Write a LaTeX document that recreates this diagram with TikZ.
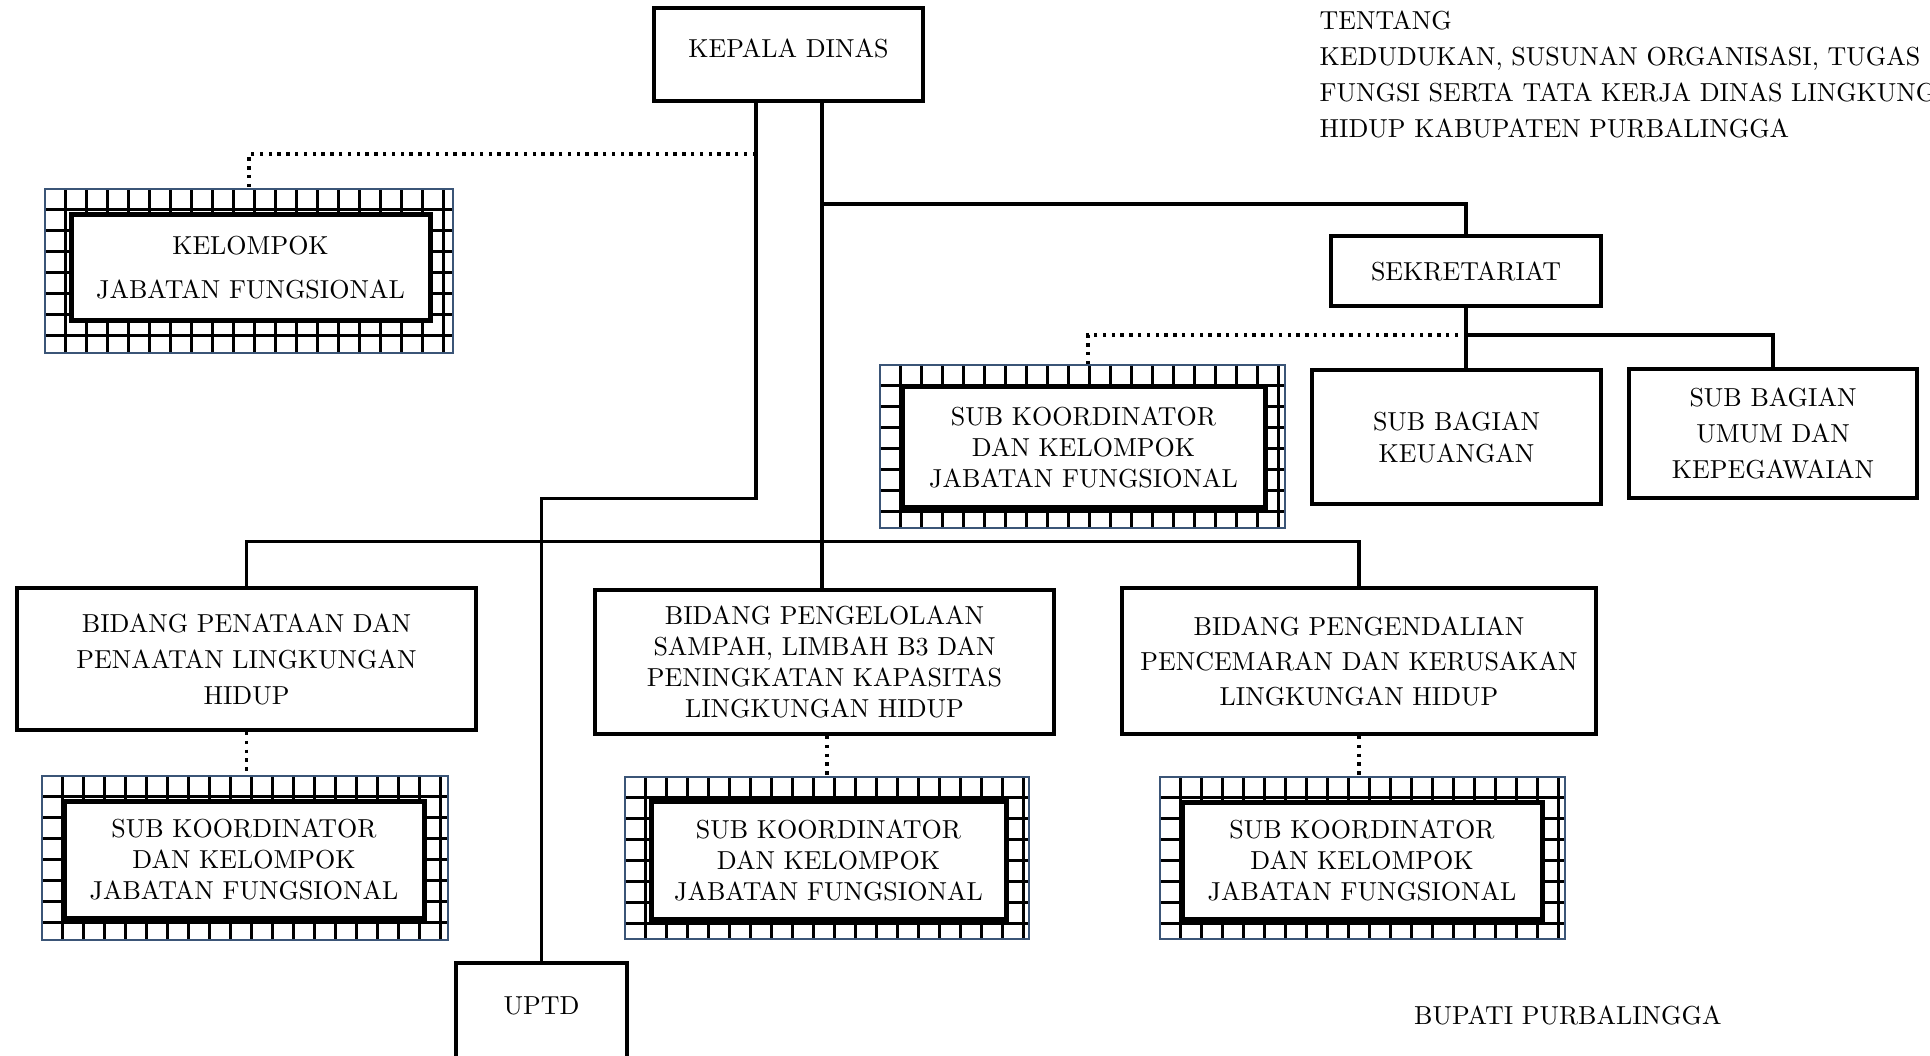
\documentclass[tikz,border=0pt]{standalone}
\usepackage{fontspec}
\setmainfont{lmroman10-regular.otf}
\definecolor{hatchblue}{HTML}{3B5577}
\tikzset{
  box/.style={draw, line width=4pt, inner sep=0pt, align=center, fill=white},
  conn/.style={line width=3.6pt},
  dotl/.style={line width=3.4pt, dash pattern=on 3.4pt off 5.4pt},
  bs/.style={font=\fontsize{26}{#1}\selectfont},
  hatchouter/.style={inner sep=0pt},
  hatchline/.style={draw=hatchblue, line width=1.8pt},
  gridline/.style={line width=3.3pt},
  innerbox/.style={draw, line width=5pt, fill=white, inner sep=0pt, align=center},
}
\newcommand{\hatchunit}[9]{%
  \node[hatchouter, minimum width=#3, minimum height=#4] (#1-o) at #2 {};
  \begin{scope}
    \clip (#1-o.south west) rectangle (#1-o.north east);
    \begin{scope}[shift={(#1-o.north west)}]
      \draw[gridline, step=21pt] (0,#4) grid (#3,0);
    \end{scope}
  \end{scope}
  \draw[hatchline] (#1-o.south west) rectangle (#1-o.north east);
  \node[innerbox, minimum width=#6, minimum height=#7, #8] (#1) at #5 {#9};
}
\begin{document}
\begin{tikzpicture}[x=1pt, y=-1pt, bs=31]
\clip (0,0) rectangle (1930,1056);
\fill[white] (0,0) rectangle (1930,1056);

% header text (cut at the right edge, as in the reference)
\node[anchor=west, align=left, inner sep=0pt, bs=36] (hdr) at (1319.5,74)
  {TENTANG\\KEDUDUKAN, SUSUNAN ORGANISASI, TUGAS\\FUNGSI SERTA TATA KERJA DINAS LINGKUNGAN\\HIDUP KABUPATEN PURBALINGGA};
\node[anchor=west, inner sep=0pt] (bup) at (1414,1015) {BUPATI PURBALINGGA};

% main boxes
\node[box, minimum width=269, minimum height=93, text depth=12pt] (kd) at (788.5,54.5) {KEPALA DINAS};
\node[box, minimum width=270, minimum height=70] (sek) at (1466,271) {SEKRETARIAT};
\node[box, minimum width=289, minimum height=134, bs=32] (keu) at (1456.5,437) {SUB BAGIAN\\KEUANGAN};
\node[box, minimum width=288, minimum height=129, bs=36] (umum) at (1773,433.5) {SUB BAGIAN\\UMUM DAN\\KEPEGAWAIAN};
\node[box, minimum width=459, minimum height=142, bs=36] (b1) at (246.5,659) {BIDANG PENATAAN DAN\\PENAATAN LINGKUNGAN\\HIDUP};
\node[box, minimum width=459, minimum height=144, bs=31] (b2) at (824.5,662) {BIDANG PENGELOLAAN\\SAMPAH, LIMBAH B3 DAN\\PENINGKATAN KAPASITAS\\LINGKUNGAN HIDUP};
\node[box, minimum width=474, minimum height=146, bs=35] (b3) at (1359,661) {BIDANG PENGENDALIAN\\PENCEMARAN DAN KERUSAKAN\\LINGKUNGAN HIDUP};
\node[box, minimum width=171, minimum height=105, text depth=19pt] (uptd) at (541.5,1015.5) {UPTD};

% hatched boxes
\hatchunit{kjf}{(249,271)}{408}{164}{(250.5,268)}{359}{106}{bs=44}{KELOMPOK\\JABATAN FUNGSIONAL}
\hatchunit{sks}{(1082.5,446.5)}{405}{163}{(1083.5,447)}{363}{120}{bs=31}{SUB KOORDINATOR\\DAN KELOMPOK\\JABATAN FUNGSIONAL}
\hatchunit{hA}{(245,858)}{406}{164}{(244,859.5)}{360}{117}{bs=31}{SUB KOORDINATOR\\DAN KELOMPOK\\JABATAN FUNGSIONAL}
\hatchunit{hB}{(827,858)}{404}{162}{(828.5,860)}{355}{118}{bs=31}{SUB KOORDINATOR\\DAN KELOMPOK\\JABATAN FUNGSIONAL}
\hatchunit{hC}{(1362.5,858)}{405}{162}{(1362,860.5)}{360}{117}{bs=31}{SUB KOORDINATOR\\DAN KELOMPOK\\JABATAN FUNGSIONAL}

% junction coordinates
\coordinate (jL) at (756,498.5);
\coordinate (jD) at (756,154);
\coordinate (tR) at (822,204);
\coordinate (bus) at (822,541.5);
\coordinate (jS) at (1467,335);
\coordinate (dS) at (1088,335);

% connectors
\draw[conn] (kd.south -| jL) -- (jL) -| (uptd.north);
\draw[dotl] (jD) -| (kjf-o.north);
\draw[conn] (kd.south -| tR) -- (b2.north -| tR);
\draw[conn] (tR) -| (sek.north);
\draw[conn] (sek.south) -- (sek.south |- keu.north);
\draw[conn] (jS) -| (umum.north);
\draw[dotl] (jS) -- (dS) -- (dS |- sks-o.north);
\draw[conn] (b1.north) |- (bus) -| (b3.north);
\draw[dotl] (b1.south) -- (b1.south |- hA-o.north);
\draw[dotl] (hB-o.north |- b2.south) -- (hB-o.north);
\draw[dotl] (b3.south) -- (b3.south |- hC-o.north);
\end{tikzpicture}
\end{document}
